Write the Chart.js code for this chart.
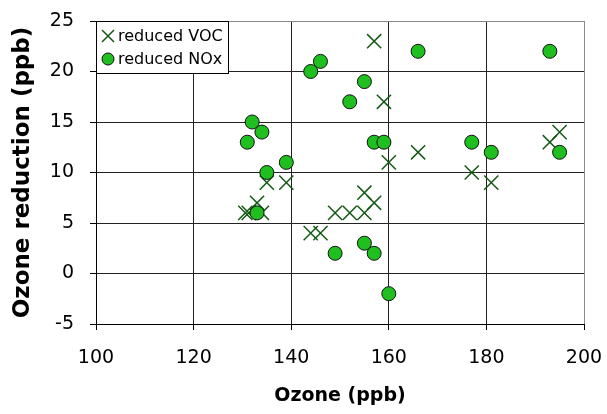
<!DOCTYPE html>
<html>
<head>
<meta charset="utf-8">
<script src="https://cdn.jsdelivr.net/npm/chart.js@4/dist/chart.umd.min.js"></script>
<style>
  html, body { margin: 0; padding: 0; background: #ffffff; }
  #wrap { width: 607px; height: 414px; }
</style>
</head>
<body>
<div id="wrap"><canvas id="c" width="607" height="414"></canvas></div>
<script>
// Data
const vocOzone     = [130.6, 131.3, 133, 134, 135, 139, 144, 146, 149, 152, 155, 155, 157, 157, 159, 160, 166, 177, 181, 193, 195];
const vocReduction = [6, 6, 7, 6, 9, 9, 4, 4, 6, 6, 6, 8, 7, 23, 17, 11, 12, 10, 9, 13, 14];

const noxOzone     = [131, 132, 133, 134, 135, 139, 144, 146, 149, 152, 155, 155, 157, 157, 159, 160, 166, 177, 181, 193, 195];
const noxReduction = [13, 15, 6, 14, 10, 11, 20, 21, 2, 17, 19, 3, 13, 2, 13, -2, 22, 13, 12, 22, 12];

const seriesLabels = ['reduced VOC', 'reduced NOx'];
const xTicks = [100, 120, 140, 160, 180, 200];
const yTicks = [-5, 0, 5, 10, 15, 20, 25];
const xTitle = 'Ozone (ppb)';
const yTitle = 'Ozone reduction (ppb)';

const FONT = '"DejaVu Sans", Verdana, sans-serif';
const VOC_COLOR = '#145a14';
const NOX_FILL = '#1fbf1f';

const toPoints = (xs, ys) => xs.map((x, i) => ({ x: x, y: ys[i] }));

const legendPlugin = {
  id: 'boxLegend',
  afterDatasetsDraw(chart) {
    const ctx = chart.ctx;
    const left = 96.5, top = 21.5, w = 132, h = 52;
    ctx.save();
    ctx.fillStyle = '#ffffff';
    ctx.fillRect(left, top, w, h);
    ctx.strokeStyle = '#000000';
    ctx.lineWidth = 1;
    ctx.strokeRect(left, top, w, h);
    const rows = [36, 59];
    chart.data.datasets.forEach((ds, i) => {
      const cy = rows[i];
      const cx = 108;
      if (ds.pointStyle === 'crossRot') {
        ctx.strokeStyle = VOC_COLOR;
        ctx.lineWidth = 1.5;
        ctx.beginPath();
        ctx.moveTo(cx - 6, cy - 6); ctx.lineTo(cx + 6, cy + 6);
        ctx.moveTo(cx + 6, cy - 6); ctx.lineTo(cx - 6, cy + 6);
        ctx.stroke();
      } else {
        ctx.fillStyle = NOX_FILL;
        ctx.strokeStyle = '#111111';
        ctx.lineWidth = 1;
        ctx.beginPath();
        ctx.arc(cx, cy, 6, 0, Math.PI * 2);
        ctx.fill();
        ctx.stroke();
      }
      ctx.fillStyle = '#000000';
      ctx.font = '16px ' + FONT;
      ctx.textBaseline = 'middle';
      ctx.textAlign = 'left';
      ctx.fillText(ds.label, 118, cy + 1);
    });
    ctx.restore();
  }
};

new Chart(document.getElementById('c'), {
  type: 'scatter',
  data: {
    datasets: [
      {
        label: seriesLabels[0],
        data: toPoints(vocOzone, vocReduction),
        pointStyle: 'crossRot',
        pointRadius: 10,
        pointHoverRadius: 10,
        borderColor: VOC_COLOR,
        backgroundColor: VOC_COLOR,
        borderWidth: 1.5,
        order: 1
      },
      {
        label: seriesLabels[1],
        data: toPoints(noxOzone, noxReduction),
        pointStyle: 'circle',
        pointRadius: 7,
        pointHoverRadius: 7,
        borderColor: '#111111',
        backgroundColor: NOX_FILL,
        borderWidth: 1,
        order: 0
      }
    ]
  },
  options: {
    responsive: false,
    animation: false,
    events: [],
    layout: { padding: { left: 0, right: 23, top: 21, bottom: 0 } },
    plugins: {
      legend: { display: false },
      tooltip: { enabled: false }
    },
    scales: {
      x: {
        type: 'linear',
        min: 100, max: 200,
        afterBuildTicks(scale) { scale.ticks = xTicks.map(v => ({ value: v })); },
        afterFit(scale) { scale.height = 90; scale.paddingLeft = 0; scale.paddingRight = 0; },
        grid: {
          color: (c) => (c.tick && c.tick.value === 200) ? '#8a8a8a' : '#222222',
          tickColor: '#000000',
          tickLength: 6,
          lineWidth: 1
        },
        border: { color: '#000000', width: 1 },
        ticks: {
          color: '#000000',
          font: { family: FONT, size: 19 },
          padding: 17,
          maxRotation: 0
        },
        title: {
          display: true,
          text: xTitle,
          color: '#000000',
          font: { family: FONT, size: 19, weight: 'bold' },
          padding: { top: 0, bottom: 7 }
        }
      },
      y: {
        type: 'linear',
        min: -5, max: 25,
        afterBuildTicks(scale) { scale.ticks = yTicks.map(v => ({ value: v })); },
        afterFit(scale) { scale.width = 96; scale.paddingTop = 0; scale.paddingBottom = 0; },
        grid: {
          color: (c) => (c.tick && c.tick.value === 25) ? '#8a8a8a' : '#222222',
          tickColor: '#000000',
          tickLength: 6,
          lineWidth: 1
        },
        border: { color: '#000000', width: 1 },
        ticks: {
          color: '#000000',
          font: { family: FONT, size: 19 },
          padding: 16
        },
        title: {
          display: true,
          text: yTitle,
          color: '#000000',
          font: { family: FONT, size: 23, weight: 'bold' },
          padding: { top: 9, bottom: 0 }
        }
      }
    }
  },
  plugins: [legendPlugin]
});
</script>
</body>
</html>
